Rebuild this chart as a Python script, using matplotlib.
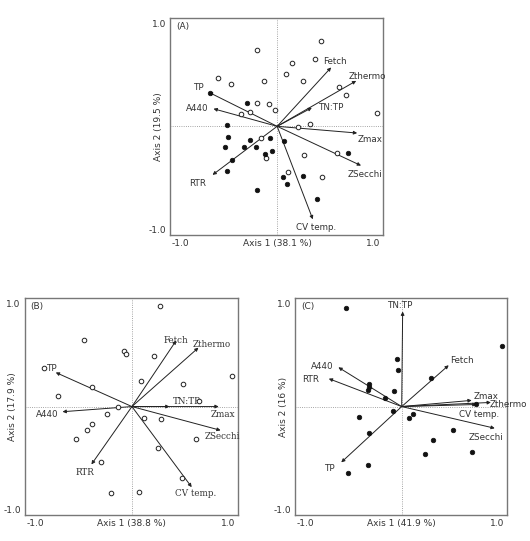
import matplotlib
matplotlib.use('Agg')
import matplotlib.pyplot as plt

# variable names (same order for every panel)
variables = ['Fetch', 'Zthermo', 'TN:TP', 'Zmax', 'ZSecchi', 'CV temp.', 'RTR', 'A440', 'TP']

# arrow tips (axis 1, axis 2)
arrows_a = [(0.56, 0.57), (0.82, 0.44), (0.36, 0.18), (0.83, -0.065), (0.87, -0.38),
            (0.37, -0.90), (-0.67, -0.47), (-0.66, 0.17), (-0.71, 0.33)]
arrows_b = [(0.46, 0.64), (0.69, 0.57), (0.39, 0.0), (0.90, 0.0), (0.92, -0.23),
            (0.62, -0.78), (-0.42, -0.56), (-0.72, -0.05), (-0.79, 0.33)]
arrows_c = [(0.49, 0.40), (0.93, 0.04), (0.01, 0.92), (0.73, 0.06), (0.97, -0.21),
            (0.78, 0.02), (-0.76, 0.27), (-0.66, 0.38), (-0.63, -0.54)]

# label anchor (left edge, centre)
labels_a = [(0.48, 0.63), (0.74, 0.48), (0.42, 0.18), (0.84, -0.13), (0.73, -0.47),
            (0.20, -0.98), (-0.91, -0.55), (-0.95, 0.17), (-0.87, 0.38)]
labels_b = [(0.33, 0.64), (0.63, 0.60), (0.42, 0.05), (0.82, -0.08), (0.75, -0.29),
            (0.45, -0.84), (-0.58, -0.64), (-1.00, -0.08), (-0.89, 0.37)]
labels_c = [(0.50, 0.45), (0.92, 0.02), (-0.15, 0.98), (0.75, 0.10), (0.70, -0.30),
            (0.60, -0.08), (-1.04, 0.26), (-0.95, 0.39), (-0.81, -0.60)]

# sites panel A
open_a_x = [0.45, -0.21, 0.15, 0.39, 0.09, 0.27, -0.61, -0.48, -0.14, 0.64, 0.71, -0.21, -0.08,
            -0.02, -0.37, -0.28, 1.04, 0.34, 0.22, -0.17, -0.12, 0.28, 0.11, 0.47, 0.62]
open_a_y = [0.83, 0.74, 0.61, 0.65, 0.51, 0.44, 0.47, 0.41, 0.44, 0.38, 0.30, 0.23, 0.22,
            0.16, 0.12, 0.14, 0.13, 0.02, -0.01, -0.11, -0.31, -0.28, -0.44, -0.49, -0.26]
fill_a_x = [-0.70, -0.31, -0.52, -0.51, -0.54, -0.34, -0.28, -0.22, -0.07, -0.13, -0.05,
            -0.47, -0.52, 0.07, 0.06, 0.10, 0.27, -0.21, 0.41, 0.74]
fill_a_y = [0.32, 0.23, 0.01, -0.10, -0.20, -0.20, -0.13, -0.20, -0.11, -0.27, -0.24,
            -0.33, -0.43, -0.14, -0.49, -0.56, -0.48, -0.62, -0.70, -0.26]

# sites panel B (all open)
open_b_x = [0.29, -0.50, -0.08, -0.06, 0.23, -0.91, 1.04, 0.09, 0.53, -0.41, -0.77, 0.70, -0.14,
            -0.26, 0.13, 0.30, -0.41, -0.47, -0.58, 0.66, 0.27, -0.32, 0.52, -0.22, 0.07]
open_b_y = [0.97, 0.64, 0.54, 0.51, 0.49, 0.37, 0.30, 0.25, 0.22, 0.19, 0.10, 0.05, 0.0,
            -0.07, -0.11, -0.12, -0.17, -0.23, -0.31, -0.31, -0.40, -0.54, -0.69, -0.84, -0.83]

# sites panel C (all filled)
fill_c_x = [-0.58, 1.05, -0.05, -0.04, 0.31, -0.34, -0.34, -0.35, -0.08, -0.17, -0.09, 0.12,
            0.08, -0.45, -0.34, 0.53, 0.33, 0.24, 0.73, -0.35, -0.56, 0.77]
fill_c_y = [0.95, 0.59, 0.46, 0.35, 0.28, 0.22, 0.19, 0.16, 0.15, 0.08, -0.04, -0.07,
            -0.11, -0.10, -0.26, -0.23, -0.32, -0.46, -0.44, -0.57, -0.64, 0.02]

serif_b = ['Fetch', 'Zthermo', 'TN:TP', 'Zmax', 'ZSecchi', 'CV temp.', 'RTR']

fig = plt.figure(figsize=(5.3, 5.41), dpi=100)
ink = '#333333'


def panel(rect, tag, xlab, ylab, arrows, labels, opn=None, fill=None, serif=()):
    ax = fig.add_axes(rect)
    ax.set_xlim(-1.11, 1.10)
    ax.set_ylim(-1.05, 1.05)
    ax.axhline(0, color='#888888', lw=0.6, ls=':', zorder=1)
    ax.axvline(0, color='#888888', lw=0.6, ls=':', zorder=1)
    for name, tip, lab in zip(variables, arrows, labels):
        ax.annotate('', xy=tip, xytext=(0, 0),
                    arrowprops=dict(arrowstyle='-|>', color='#222222', lw=0.7,
                                    mutation_scale=5, shrinkA=0, shrinkB=0), zorder=3)
        fam = 'DejaVu Serif' if name in serif else 'DejaVu Sans'
        ax.text(lab[0], lab[1], name, fontsize=6.3, color=ink, ha='left', va='center',
                family=fam, zorder=4)
    if opn is not None:
        ax.plot(opn[0], opn[1], 'o', ms=3.3, mfc='white', mec='#222222', mew=0.7, ls='none', zorder=5)
    if fill is not None:
        ax.plot(fill[0], fill[1], 'o', ms=3.3, mfc='#111111', mec='#111111', mew=0.5, ls='none', zorder=5)
    ax.text(-1.05, 0.97, tag, fontsize=6.5, color=ink, ha='left', va='center')
    ax.set_xticks([-1, 0, 1])
    ax.set_xticklabels(['-1.0', xlab, '1.0'])
    ax.set_yticks([-1, 1])
    ax.set_yticklabels(['-1.0', '1.0'])
    ax.tick_params(length=0, labelsize=6.5, labelcolor=ink, pad=3)
    ax.set_ylabel(ylab, fontsize=6.5, color=ink)
    ax.yaxis.set_label_coords(-0.035, 0.5)
    for s in ax.spines.values():
        s.set_color('#777777')
        s.set_linewidth(1.0)
    return ax


panel([0.321, 0.566, 0.402, 0.401], '(A)', 'Axis 1 (38.1 %)', 'Axis 2 (19.5 %)',
      arrows_a, labels_a, (open_a_x, open_a_y), (fill_a_x, fill_a_y))
panel([0.047, 0.048, 0.402, 0.401], '(B)', 'Axis 1 (38.8 %)', 'Axis 2 (17.9 %)',
      arrows_b, labels_b, (open_b_x, open_b_y), None, serif_b)
panel([0.557, 0.048, 0.400, 0.401], '(C)', 'Axis 1 (41.9 %)', 'Axis 2 (16 %)',
      arrows_c, labels_c, None, (fill_c_x, fill_c_y))

fig.savefig('out.png', dpi=100)
